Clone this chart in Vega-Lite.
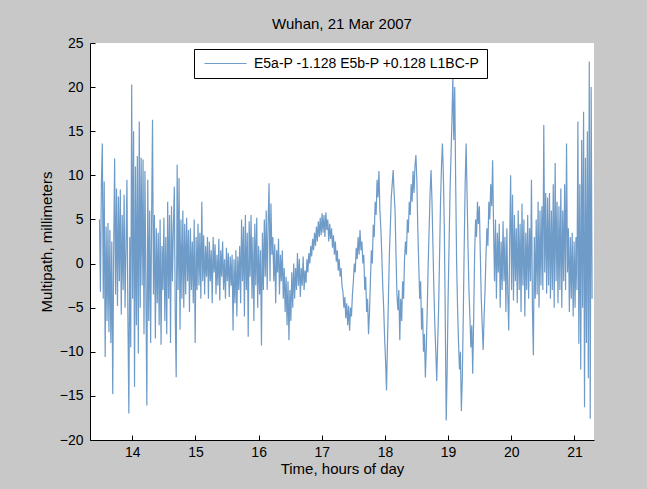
{
  "$schema": "https://vega.github.io/schema/vega-lite/v6.json",
  "width": 504,
  "height": 397,
  "autosize": {"type": "none"},
  "padding": {"left": 90, "top": 43, "right": 53, "bottom": 49},
  "background": "#c8c8c8",
  "config": {
    "view": {"fill": "white", "stroke": null},
    "font": "Liberation Sans"
  },
  "title": {
    "text": "Wuhan, 21 Mar 2007",
    "fontSize": 15,
    "fontWeight": "normal",
    "color": "#000",
    "frame": "group",
    "anchor": "middle",
    "offset": 6,
    "dy": 14,
    "baseline": "alphabetic"
  },
  "data": {
    "values": [
      {"t":13.480,"v":5.0},{"t":13.495,"v":-3.2},{"t":13.510,"v":9.0},{"t":13.525,"v":13.6},{"t":13.540,"v":-4.0},{"t":13.555,"v":9.3},{"t":13.570,"v":-10.6},{"t":13.585,"v":4.2},{"t":13.600,"v":-6.5},
      {"t":13.615,"v":4.6},{"t":13.630,"v":-7.8},{"t":13.645,"v":3.8},{"t":13.660,"v":-9.0},{"t":13.675,"v":2.5},{"t":13.690,"v":-14.8},{"t":13.705,"v":1.5},{"t":13.720,"v":11.9},{"t":13.735,"v":-3.5},{"t":13.750,"v":8.5},
      {"t":13.765,"v":-4.8},{"t":13.780,"v":7.6},{"t":13.795,"v":-2.0},{"t":13.810,"v":8.4},{"t":13.825,"v":-5.8},{"t":13.840,"v":5.5},{"t":13.855,"v":-3.0},{"t":13.870,"v":7.8},{"t":13.885,"v":-5.0},{"t":13.900,"v":2.0},{"t":13.915,"v":9.5},
      {"t":13.930,"v":-6.0},{"t":13.945,"v":-17.0},{"t":13.960,"v":3.0},{"t":13.975,"v":-9.5},{"t":13.990,"v":20.3},{"t":14.005,"v":-4.0},{"t":14.020,"v":15.0},{"t":14.035,"v":-14.0},{"t":14.050,"v":11.0},
      {"t":14.065,"v":-7.0},{"t":14.080,"v":12.2},{"t":14.095,"v":-10.2},{"t":14.110,"v":16.1},{"t":14.125,"v":-5.0},{"t":14.140,"v":12.0},{"t":14.155,"v":-2.5},{"t":14.170,"v":11.8},{"t":14.185,"v":-8.0},{"t":14.200,"v":10.5},{"t":14.215,"v":-3.0},{"t":14.230,"v":-16.1},{"t":14.245,"v":9.5},
      {"t":14.260,"v":-6.5},{"t":14.275,"v":6.0},{"t":14.290,"v":-9.0},{"t":14.305,"v":4.8},{"t":14.320,"v":16.3},{"t":14.335,"v":-3.5},{"t":14.350,"v":5.5},{"t":14.365,"v":-8.5},{"t":14.380,"v":4.0},{"t":14.395,"v":-4.5},{"t":14.410,"v":3.5},{"t":14.425,"v":-7.0},{"t":14.440,"v":5.0},{"t":14.455,"v":-9.2},{"t":14.470,"v":2.0},{"t":14.485,"v":-3.0},{"t":14.500,"v":5.2},{"t":14.515,"v":-6.5},
      {"t":14.530,"v":3.0},{"t":14.545,"v":-8.0},{"t":14.560,"v":7.0},{"t":14.575,"v":-4.0},{"t":14.590,"v":5.5},{"t":14.605,"v":-9.0},{"t":14.620,"v":6.5},{"t":14.635,"v":-2.0},{"t":14.650,"v":4.0},
      {"t":14.665,"v":8.7},{"t":14.680,"v":-6.0},{"t":14.695,"v":-12.9},{"t":14.710,"v":11.2},{"t":14.725,"v":-3.0},{"t":14.740,"v":9.7},{"t":14.755,"v":-7.5},{"t":14.770,"v":5.0},{"t":14.785,"v":-4.0},{"t":14.800,"v":6.0},
      {"t":14.815,"v":-5.0},{"t":14.830,"v":4.5},{"t":14.845,"v":-3.5},{"t":14.860,"v":5.2},{"t":14.875,"v":-2.0},{"t":14.890,"v":3.8},{"t":14.905,"v":-5.5},{"t":14.920,"v":4.0},{"t":14.935,"v":-3.0},{"t":14.950,"v":2.5},{"t":14.965,"v":-4.5},{"t":14.980,"v":5.0},{"t":14.995,"v":-9.0},{"t":15.010,"v":3.0},{"t":15.025,"v":-3.0},{"t":15.040,"v":4.5},{"t":15.055,"v":-2.5},{"t":15.070,"v":3.5},{"t":15.085,"v":-4.0},{"t":15.100,"v":7.0},{"t":15.115,"v":-2.0},
      {"t":15.130,"v":3.2},{"t":15.145,"v":-3.5},{"t":15.160,"v":2.0},{"t":15.175,"v":-1.5},{"t":15.190,"v":3.0},{"t":15.205,"v":-4.0},{"t":15.220,"v":2.5},{"t":15.235,"v":-2.0},{"t":15.250,"v":1.5},{"t":15.265,"v":-4.5},{"t":15.280,"v":3.0},{"t":15.295,"v":-1.0},{"t":15.310,"v":2.2},{"t":15.325,"v":-3.5},{"t":15.340,"v":1.0},{"t":15.355,"v":-2.5},{"t":15.370,"v":2.8},{"t":15.385,"v":-4.2},{"t":15.400,"v":1.5},{"t":15.415,"v":-1.5},{"t":15.430,"v":2.5},{"t":15.445,"v":-3.0},{"t":15.460,"v":0.5},{"t":15.475,"v":-4.0},{"t":15.490,"v":1.8},{"t":15.505,"v":-2.0},{"t":15.520,"v":1.2},{"t":15.535,"v":-3.8},{"t":15.550,"v":0.8},{"t":15.565,"v":-2.5},{"t":15.580,"v":1.0},{"t":15.595,"v":-7.6},{"t":15.610,"v":0.5},
      {"t":15.625,"v":-4.5},{"t":15.640,"v":1.5},{"t":15.655,"v":-6.0},{"t":15.670,"v":0.8},{"t":15.685,"v":-3.0},{"t":15.700,"v":2.0},
      {"t":15.715,"v":-4.5},{"t":15.730,"v":5.0},{"t":15.745,"v":-2.0},{"t":15.760,"v":4.2},{"t":15.775,"v":-6.0},{"t":15.790,"v":5.5},{"t":15.805,"v":-3.0},{"t":15.820,"v":3.5},{"t":15.835,"v":-8.3},{"t":15.850,"v":4.8},{"t":15.865,"v":-1.5},{"t":15.880,"v":5.5},{"t":15.895,"v":-4.0},{"t":15.910,"v":3.0},{"t":15.925,"v":-6.5},{"t":15.940,"v":4.5},{"t":15.955,"v":-2.5},{"t":15.970,"v":5.2},{"t":15.985,"v":-5.0},{"t":16.000,"v":2.0},{"t":16.015,"v":-3.5},{"t":16.030,"v":1.5},{"t":16.045,"v":-9.3},
      {"t":16.060,"v":3.5},{"t":16.075,"v":-3.0},{"t":16.090,"v":5.0},{"t":16.105,"v":-1.5},{"t":16.120,"v":6.0},{"t":16.135,"v":-3.0},{"t":16.150,"v":4.5},{"t":16.165,"v":9.1},{"t":16.180,"v":-2.0},{"t":16.195,"v":6.8},{"t":16.210,"v":1.0},
      {"t":16.225,"v":3.0},{"t":16.240,"v":-2.0},{"t":16.255,"v":2.2},{"t":16.270,"v":-4.5},{"t":16.285,"v":1.5},{"t":16.300,"v":-1.0},{"t":16.315,"v":2.8},{"t":16.330,"v":-3.5},{"t":16.345,"v":1.0},{"t":16.360,"v":-2.0},{"t":16.375,"v":1.5},
      {"t":16.390,"v":-4.0},{"t":16.405,"v":-0.5},{"t":16.420,"v":-5.5},{"t":16.435,"v":-1.5},{"t":16.450,"v":-7.0},{"t":16.465,"v":-2.0},{"t":16.480,"v":-8.7},{"t":16.495,"v":-3.0},{"t":16.510,"v":-6.5},{"t":16.525,"v":-1.0},{"t":16.540,"v":-5.0},{"t":16.555,"v":0.0},{"t":16.570,"v":-4.0},{"t":16.585,"v":-0.5},{"t":16.600,"v":-3.0},
      {"t":16.615,"v":1.2},{"t":16.630,"v":-2.5},{"t":16.645,"v":0.5},{"t":16.660,"v":-3.8},{"t":16.675,"v":-0.5},{"t":16.690,"v":-2.5},{"t":16.705,"v":0.8},{"t":16.720,"v":-3.0},{"t":16.735,"v":-0.8},{"t":16.750,"v":-2.2},
      {"t":16.765,"v":0.5},{"t":16.780,"v":-1.0},{"t":16.795,"v":1.2},{"t":16.810,"v":0.0},{"t":16.825,"v":2.0},{"t":16.840,"v":0.8},{"t":16.855,"v":2.8},{"t":16.870,"v":1.5},{"t":16.885,"v":3.5},{"t":16.900,"v":2.0},{"t":16.915,"v":4.2},{"t":16.930,"v":2.5},{"t":16.945,"v":4.8},{"t":16.960,"v":3.0},
      {"t":16.975,"v":5.2},{"t":16.990,"v":3.2},{"t":17.005,"v":5.7},{"t":17.020,"v":3.5},{"t":17.035,"v":5.5},{"t":17.050,"v":3.0},{"t":17.065,"v":5.8},{"t":17.080,"v":3.8},{"t":17.095,"v":5.0},{"t":17.110,"v":2.5},{"t":17.125,"v":4.5},{"t":17.140,"v":2.8},{"t":17.155,"v":4.0},
      {"t":17.170,"v":1.8},{"t":17.185,"v":3.2},{"t":17.200,"v":1.0},{"t":17.215,"v":2.5},{"t":17.230,"v":0.2},{"t":17.245,"v":1.5},{"t":17.260,"v":-0.8},{"t":17.275,"v":0.5},{"t":17.290,"v":-1.5},{"t":17.305,"v":-0.5},{"t":17.320,"v":-2.5},
      {"t":17.335,"v":-3.2},{"t":17.350,"v":-5.0},{"t":17.365,"v":-3.8},{"t":17.380,"v":-6.2},{"t":17.395,"v":-4.5},{"t":17.410,"v":-7.0},{"t":17.425,"v":-4.8},{"t":17.440,"v":-7.6},{"t":17.455,"v":-5.0},{"t":17.470,"v":-6.0},{"t":17.485,"v":-3.5},
      {"t":17.500,"v":-2.0},{"t":17.515,"v":0.0},{"t":17.530,"v":-1.0},{"t":17.545,"v":1.8},{"t":17.560,"v":0.5},{"t":17.575,"v":3.0},{"t":17.590,"v":1.0},{"t":17.605,"v":3.8},{"t":17.620,"v":1.5},{"t":17.635,"v":2.5},
      {"t":17.650,"v":0.0},{"t":17.665,"v":1.0},{"t":17.680,"v":-3.0},{"t":17.695,"v":-1.5},{"t":17.710,"v":-5.5},{"t":17.725,"v":-4.0},{"t":17.740,"v":-8.0},{"t":17.755,"v":-5.5},
      {"t":17.770,"v":-2.0},{"t":17.785,"v":1.5},{"t":17.800,"v":0.0},{"t":17.815,"v":4.4},{"t":17.830,"v":3.0},{"t":17.845,"v":7.0},{"t":17.860,"v":5.5},{"t":17.875,"v":9.5},{"t":17.890,"v":7.5},{"t":17.905,"v":10.5},
      {"t":17.920,"v":6.0},{"t":17.935,"v":4.0},{"t":17.950,"v":1.0},{"t":17.965,"v":-2.5},{"t":17.980,"v":-5.0},{"t":17.995,"v":-8.5},{"t":18.010,"v":-11.0},{"t":18.025,"v":-14.4},{"t":18.040,"v":-9.0},
      {"t":18.055,"v":-4.0},{"t":18.070,"v":1.0},{"t":18.085,"v":4.0},{"t":18.100,"v":7.5},{"t":18.115,"v":9.0},{"t":18.130,"v":10.6},{"t":18.145,"v":8.0},{"t":18.160,"v":6.0},
      {"t":18.175,"v":1.0},{"t":18.190,"v":-3.5},{"t":18.205,"v":-5.3},{"t":18.220,"v":-3.0},{"t":18.235,"v":-8.7},{"t":18.250,"v":-4.0},{"t":18.265,"v":-6.5},{"t":18.280,"v":-2.0},
      {"t":18.295,"v":-4.0},{"t":18.310,"v":0.5},{"t":18.325,"v":2.5},{"t":18.340,"v":1.0},{"t":18.355,"v":5.0},{"t":18.370,"v":3.5},{"t":18.385,"v":7.0},{"t":18.400,"v":5.5},{"t":18.415,"v":9.0},{"t":18.430,"v":7.0},{"t":18.445,"v":10.5},{"t":18.460,"v":8.0},{"t":18.475,"v":11.0},{"t":18.490,"v":12.3},{"t":18.505,"v":9.5},
      {"t":18.520,"v":4.0},{"t":18.535,"v":0.0},{"t":18.550,"v":-4.0},{"t":18.565,"v":-2.0},{"t":18.580,"v":-7.5},{"t":18.595,"v":-5.0},{"t":18.610,"v":-10.0},{"t":18.625,"v":-8.0},{"t":18.640,"v":-12.9},{"t":18.655,"v":-9.5},{"t":18.670,"v":-5.0},
      {"t":18.685,"v":0.0},{"t":18.700,"v":4.0},{"t":18.715,"v":8.0},{"t":18.730,"v":10.6},{"t":18.745,"v":7.0},
      {"t":18.760,"v":2.0},{"t":18.775,"v":-3.0},{"t":18.790,"v":-7.0},{"t":18.805,"v":-10.0},{"t":18.820,"v":-13.3},{"t":18.835,"v":-9.0},{"t":18.850,"v":-5.0},
      {"t":18.865,"v":1.0},{"t":18.880,"v":7.0},{"t":18.895,"v":11.0},{"t":18.910,"v":13.6},{"t":18.925,"v":10.0},
      {"t":18.940,"v":4.0},{"t":18.955,"v":-6.0},{"t":18.970,"v":-17.8},{"t":18.985,"v":-12.0},
      {"t":19.000,"v":-4.0},{"t":19.015,"v":2.0},{"t":19.030,"v":8.0},{"t":19.045,"v":12.0},{"t":19.060,"v":16.0},{"t":19.075,"v":21.2},{"t":19.090,"v":14.0},{"t":19.105,"v":20.0},
      {"t":19.120,"v":9.0},{"t":19.135,"v":0.0},{"t":19.150,"v":-5.0},{"t":19.165,"v":-9.0},{"t":19.180,"v":-12.0},{"t":19.195,"v":-10.0},{"t":19.210,"v":-16.7},{"t":19.225,"v":-13.0},{"t":19.240,"v":-6.0},
      {"t":19.255,"v":2.0},{"t":19.270,"v":9.0},{"t":19.285,"v":13.6},{"t":19.300,"v":8.0},
      {"t":19.315,"v":2.0},{"t":19.330,"v":-3.0},{"t":19.345,"v":-6.0},{"t":19.360,"v":-9.5},{"t":19.375,"v":-7.0},{"t":19.390,"v":-12.5},
      {"t":19.405,"v":-6.0},{"t":19.420,"v":1.0},{"t":19.435,"v":5.0},{"t":19.450,"v":3.0},{"t":19.465,"v":7.0},{"t":19.480,"v":4.5},{"t":19.495,"v":6.5},
      {"t":19.510,"v":1.0},{"t":19.525,"v":-4.0},{"t":19.540,"v":-7.0},{"t":19.555,"v":-9.8},{"t":19.570,"v":-6.0},{"t":19.585,"v":-3.0},
      {"t":19.600,"v":1.0},{"t":19.615,"v":4.0},{"t":19.630,"v":2.0},{"t":19.645,"v":7.0},{"t":19.660,"v":5.0},{"t":19.675,"v":9.0},{"t":19.690,"v":6.5},{"t":19.705,"v":11.7},{"t":19.720,"v":4.0},
      {"t":19.735,"v":-2.0},{"t":19.750,"v":5.0},{"t":19.765,"v":-4.0},{"t":19.780,"v":3.5},{"t":19.795,"v":-1.0},{"t":19.810,"v":4.5},{"t":19.825,"v":-5.0},{"t":19.840,"v":2.5},{"t":19.855,"v":-3.0},{"t":19.870,"v":4.8},{"t":19.885,"v":-2.0},{"t":19.900,"v":3.0},{"t":19.915,"v":-5.5},{"t":19.930,"v":4.0},{"t":19.945,"v":-3.5},{"t":19.960,"v":-7.6},{"t":19.975,"v":2.5},{"t":19.990,"v":10.0},
      {"t":20.005,"v":-3.0},{"t":20.020,"v":7.8},{"t":20.035,"v":-4.2},{"t":20.050,"v":5.5},{"t":20.065,"v":-2.0},{"t":20.080,"v":4.0},
      {"t":20.095,"v":-4.5},{"t":20.110,"v":6.0},{"t":20.125,"v":-3.0},{"t":20.140,"v":4.5},{"t":20.155,"v":-5.5},{"t":20.170,"v":6.8},{"t":20.185,"v":-2.5},{"t":20.200,"v":5.0},{"t":20.215,"v":-6.0},{"t":20.230,"v":3.5},{"t":20.245,"v":-3.0},{"t":20.260,"v":5.5},{"t":20.275,"v":-4.0},{"t":20.290,"v":4.0},
      {"t":20.305,"v":-2.0},{"t":20.320,"v":9.5},{"t":20.335,"v":-5.0},{"t":20.350,"v":-10.4},{"t":20.365,"v":3.0},{"t":20.380,"v":-4.0},{"t":20.395,"v":5.0},
      {"t":20.410,"v":-3.5},{"t":20.425,"v":7.0},{"t":20.440,"v":-5.0},{"t":20.455,"v":6.0},{"t":20.470,"v":-2.5},{"t":20.485,"v":6.5},
      {"t":20.500,"v":-3.0},{"t":20.515,"v":15.7},{"t":20.530,"v":-1.0},{"t":20.545,"v":8.0},{"t":20.560,"v":-3.4},{"t":20.575,"v":7.5},{"t":20.590,"v":-2.5},
      {"t":20.605,"v":8.0},{"t":20.620,"v":-4.0},{"t":20.635,"v":6.0},{"t":20.650,"v":-3.0},{"t":20.665,"v":9.0},{"t":20.680,"v":-5.0},{"t":20.695,"v":11.4},{"t":20.710,"v":-2.0},{"t":20.725,"v":7.0},{"t":20.740,"v":-4.5},{"t":20.755,"v":6.5},{"t":20.770,"v":-3.0},{"t":20.785,"v":8.5},{"t":20.800,"v":-5.0},{"t":20.815,"v":6.0},{"t":20.830,"v":-2.0},
      {"t":20.845,"v":9.0},{"t":20.860,"v":-3.0},{"t":20.875,"v":13.6},{"t":20.890,"v":-1.0},
      {"t":20.905,"v":4.0},{"t":20.920,"v":-5.5},{"t":20.935,"v":3.0},{"t":20.950,"v":-4.0},{"t":20.965,"v":3.5},{"t":20.980,"v":-6.0},{"t":20.995,"v":2.5},{"t":21.010,"v":-5.0},{"t":21.025,"v":3.0},
      {"t":21.040,"v":-3.0},{"t":21.055,"v":16.1},{"t":21.070,"v":-9.1},{"t":21.085,"v":9.0},{"t":21.100,"v":-12.0},{"t":21.115,"v":14.0},{"t":21.130,"v":-5.0},{"t":21.145,"v":17.2},{"t":21.160,"v":-16.3},{"t":21.175,"v":12.0},{"t":21.190,"v":-9.0},{"t":21.205,"v":15.0},{"t":21.220,"v":-13.0},{"t":21.235,"v":22.9},{"t":21.250,"v":-17.6},{"t":21.265,"v":20.0},{"t":21.280,"v":-4.0}
    ]
  },
  "mark": {"type": "line", "strokeWidth": 1.2},
  "encoding": {
    "x": {
      "field": "t",
      "type": "quantitative",
      "scale": {"domain": [13.33, 21.31], "nice": false, "zero": false},
      "axis": {
        "title": "Time, hours of day",
        "values": [14, 15, 16, 17, 18, 19, 20, 21],
        "format": "d",
        "grid": false,
        "tickSize": -5,
        "labelPadding": 10,
        "labelFontSize": 14,
        "labelColor": "#000",
        "titleFontSize": 15,
        "titleFontWeight": "normal",
        "titleColor": "#000",
        "titlePadding": 2,
        "domainColor": "#000",
        "tickColor": "#000"
      }
    },
    "y": {
      "field": "v",
      "type": "quantitative",
      "scale": {"domain": [-20, 25], "nice": false, "zero": false},
      "axis": {
        "title": "Multipath, millimeters",
        "values": [-20, -15, -10, -5, 0, 5, 10, 15, 20, 25],
        "grid": false,
        "tickSize": -5,
        "labelPadding": 12,
        "labelFontSize": 14,
        "labelColor": "#000",
        "titleFontSize": 15,
        "titleFontWeight": "normal",
        "titleColor": "#000",
        "titlePadding": 5,
        "domainColor": "#000",
        "tickColor": "#000"
      }
    },
    "color": {
      "datum": "E5a-P -1.128 E5b-P +0.128 L1BC-P",
      "type": "nominal",
      "scale": {"range": ["#6e9bc8"]},
      "legend": {
        "title": null,
        "orient": "none",
        "legendX": 104,
        "legendY": 6,
        "padding": 7,
        "strokeColor": "#000",
        "fillColor": "#fff",
        "symbolType": "M-0.571,0H5.429",
        "symbolSize": 196,
        "symbolStrokeWidth": 1,
        "labelFontSize": 14,
        "labelColor": "#000",
        "labelOffset": 38,
        "labelLimit": 400
      }
    }
  }
}
